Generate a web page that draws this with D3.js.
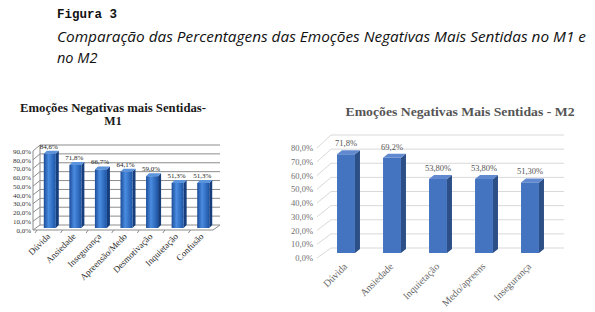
<!DOCTYPE html>
<html><head><meta charset="utf-8">
<script src="https://cdn.jsdelivr.net/npm/d3@7"></script>
<style>html,body{margin:0;padding:0;background:#fff}svg{display:block}</style>
</head><body>
<script>
// ---- data ----
const categoriesM1 = ["Dúvida","Ansiedade","Insegurança","Apreensão/Medo","Desmotivação","Inquietação","Confusão"];
const valuesM1 = [84.6, 71.8, 66.7, 64.1, 59.0, 51.3, 51.3];
const valueLabelsM1 = ["84,6%","71,8%","66,7%","64,1%","59,0%","51,3%","51,3%"];
const tickValuesM1 = [0,10,20,30,40,50,60,70,80,90];
const tickLabelsM1 = ["0,0%","10,0%","20,0%","30,0%","40,0%","50,0%","60,0%","70,0%","80,0%","90,0%"];

const categoriesM2 = ["Dúvida","Ansiedade","Inquietação","Medo/apreens","Insegurança"];
const valuesM2 = [71.8, 69.2, 53.8, 53.8, 51.3];
const valueLabelsM2 = ["71,8%","69,2%","53,80%","53,80%","51,30%"];
const tickValuesM2 = [0,10,20,30,40,50,60,70,80];
const tickLabelsM2 = ["0,0%","10,0%","20,0%","30,0%","40,0%","50,0%","60,0%","70,0%","80,0%"];

const W = 595, H = 312;
const svg = d3.select("body").append("svg").attr("width", W).attr("height", H);
const defs = svg.append("defs");
const g1 = defs.append("linearGradient").attr("id","barM1").attr("x1","0").attr("x2","1").attr("y1","0").attr("y2","0");
g1.append("stop").attr("offset","0%").attr("stop-color","#1c4c98");
g1.append("stop").attr("offset","40%").attr("stop-color","#4a8ce0");
g1.append("stop").attr("offset","100%").attr("stop-color","#1d55a6");

// ---- header ----
svg.append("text").attr("x",57).attr("y",18)
  .attr("font-family","'Liberation Mono', 'DejaVu Sans Mono', monospace").attr("font-weight","bold")
  .attr("font-size",12.5).attr("fill","#111").text("Figura 3");
svg.append("text").attr("x",57).attr("y",42)
  .attr("font-family","'Open Sans', 'DejaVu Sans', sans-serif").attr("font-style","italic")
  .attr("font-size",14.5).attr("fill","#111")
  .attr("textLength",529).attr("lengthAdjust","spacingAndGlyphs")
  .text("Comparação das Percentagens das Emoções Negativas Mais Sentidas no M1 e");
svg.append("text").attr("x",57).attr("y",63)
  .attr("font-family","'Open Sans', 'DejaVu Sans', sans-serif").attr("font-style","italic")
  .attr("font-size",14.5).attr("fill","#111").text("no M2");

function chart(o) {
  const g = svg.append("g");
  const yF = d3.scaleLinear().domain(o.domain).range(o.frontRange);
  const yB = d3.scaleLinear().domain(o.domain).range(o.backRange);
  const yBar = d3.scaleLinear().domain(o.domain).range(o.barRange);
  const x = d3.scaleBand().domain(o.cats).range(o.xRange).paddingInner(o.pad).paddingOuter(o.pad/2);

  // grid lines (side wall diagonal + back wall)
  o.ticks.forEach(t => {
    g.append("path")
      .attr("d", `M${o.axisX},${yF(t)}L${o.backX0},${yB(t)}L${o.backX1},${yB(t)}`)
      .attr("fill","none").attr("stroke",o.gridColor).attr("stroke-width",o.gridW);
  });
  if (o.frame) {
    g.append("line").attr("x1",o.axisX).attr("x2",o.axisX).attr("y1",yF(o.domain[0])).attr("y2",yF(o.domain[1]))
      .attr("stroke",o.gridColor).attr("stroke-width",1);
    g.append("line").attr("x1",o.backX0).attr("x2",o.backX0).attr("y1",yB(o.domain[0])).attr("y2",yB(o.domain[1]))
      .attr("stroke",o.gridColor).attr("stroke-width",1);
    g.append("path").attr("d",`M${o.axisX},${yF(0)}L${o.floorX1},${yF(0)}L${o.backX1},${yB(0)}`)
      .attr("fill","none").attr("stroke",o.gridColor).attr("stroke-width",1);
    o.cats.forEach((c,i) => {
      const xx = x(c) - x.step()*x.paddingInner()/2;
      g.append("line").attr("x1",xx).attr("x2",xx-2).attr("y1",yF(0)).attr("y2",yF(0)+3)
        .attr("stroke",o.gridColor);
    });
  }

  // y axis labels
  const ax = g.append("g").attr("transform",`translate(${o.labelX},0)`)
    .call(d3.axisLeft(yF).tickValues(o.ticks).tickFormat((d,i)=>o.tickLabels[i]).tickSize(0).tickPadding(0));
  ax.select(".domain").remove();
  ax.selectAll("text").attr("font-family",o.tickFont).attr("font-size",o.tickSize).attr("fill",o.tickColor);

  // bars
  const dx = o.depth[0], dy = o.depth[1];
  const bars = g.selectAll("g.bar").data(o.vals).join("g").attr("class","bar");
  bars.each(function(v,i){
    const s = d3.select(this);
    const x0 = x(o.cats[i]), w = x.bandwidth(), yt = yBar(v), yb = yBar(0);
    s.append("path").attr("d",`M${x0+w},${yt}L${x0+w+dx},${yt+dy}L${x0+w+dx},${yb+dy}L${x0+w},${yb}Z`).attr("fill",o.sideColor);
    s.append("path").attr("d",`M${x0},${yt}L${x0+dx},${yt+dy}L${x0+w+dx},${yt+dy}L${x0+w},${yt}Z`).attr("fill",o.topColor);
    s.append("rect").attr("x",x0).attr("y",yt).attr("width",w).attr("height",yb-yt).attr("fill",o.frontColor);
    s.append("text").attr("x",x0+w/2+o.valDx).attr("y",yt+o.valDy).attr("text-anchor","middle")
      .attr("font-family",o.valFont).attr("font-size",o.valSize).attr("fill",o.valColor).text(o.valLabels[i]);
  });

  // category labels
  o.cats.forEach(c => {
    const cx = x(c) + x.bandwidth()/2 + o.catDx;
    g.append("text").attr("transform",`translate(${cx},${o.catY}) rotate(-45)`)
      .attr("text-anchor","end").attr("font-family","'Liberation Serif', serif")
      .attr("font-size",o.catSize).attr("fill",o.catColor).text(c);
  });

  // title
  o.title.forEach((t,i) => {
    const tt = g.append("text").attr("x",o.titleX).attr("y",o.titleY + i*o.titleLH).attr("text-anchor","middle")
      .attr("font-family","'Liberation Serif', serif").attr("font-weight","bold")
      .attr("font-size",o.titleSize).attr("fill",o.titleColor).text(t);
    if (o.titleLen[i]) tt.attr("textLength",o.titleLen[i]).attr("lengthAdjust","spacingAndGlyphs");
  });
}

chart({
  cats: categoriesM1, vals: valuesM1, valLabels: valueLabelsM1,
  ticks: tickValuesM1, tickLabels: tickLabelsM1, domain: [0,90],
  frontRange: [230,151], backRange: [225,145], barRange: [228,149],
  xRange: [37,216], pad: 0.53, axisX: 33, backX0: 40, backX1: 220, floorX1: 213,
  gridColor: "#8c8c8c", gridW: 1, frame: true,
  labelX: 31, tickFont: "'Liberation Serif', serif", tickSize: 7, tickColor: "#333",
  depth: [3,-3], frontColor: "url(#barM1)", sideColor: "#163e7c", topColor: "#5b93dc",
  valDx: -1, valDy: -5, valFont: "'Liberation Serif', serif", valSize: 7, valColor: "#222",
  catDx: 1, catY: 237, catSize: 9, catColor: "#2a2a2a",
  title: ["Emoções Negativas mais Sentidas-","M1"], titleLen: [186, 0],
  titleX: 113, titleY: 112, titleLH: 13, titleSize: 12, titleColor: "#1a1a1a"
});

chart({
  cats: categoriesM2, vals: valuesM2, valLabels: valueLabelsM2,
  ticks: tickValuesM2, tickLabels: tickLabelsM2, domain: [0,80],
  frontRange: [258,148], backRange: [248,135], barRange: [253,143],
  xRange: [323,553], pad: 0.61, axisX: 317, backX0: 331, backX1: 564, floorX1: 548,
  gridColor: "#d9d9d9", gridW: 1, frame: false,
  labelX: 313, tickFont: "'Liberation Serif', serif", tickSize: 8.5, tickColor: "#6f6f6f",
  depth: [5,-4], frontColor: "#4473c0", sideColor: "#2d4f88", topColor: "#6189cf",
  valDx: 0, valDy: -8, valFont: "'Liberation Serif', serif", valSize: 8.5, valColor: "#555",
  catDx: 2, catY: 267, catSize: 10, catColor: "#666",
  title: ["Emoções Negativas Mais Sentidas - M2"], titleLen: [229],
  titleX: 460, titleY: 116, titleLH: 0, titleSize: 12.5, titleColor: "#555"
});
</script>
</body></html>
